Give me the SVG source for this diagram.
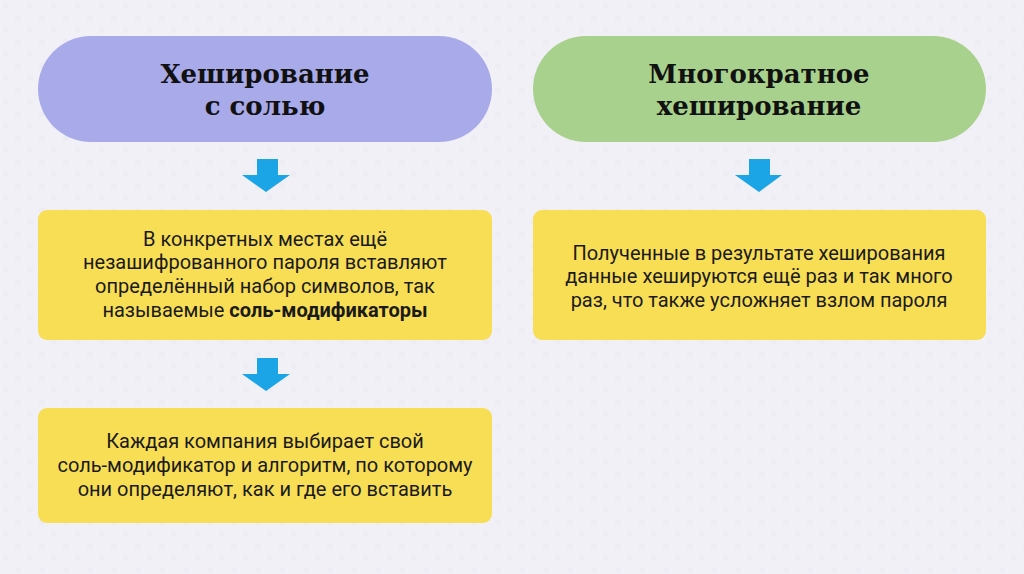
<svg xmlns="http://www.w3.org/2000/svg" width="1024" height="574" viewBox="0 0 1024 574">
<defs>
<style>
.title{font-family:"DejaVu Serif","Liberation Serif",serif;font-weight:bold;font-size:26px;fill:#111;text-anchor:middle}
.body{font-family:Roboto,"Liberation Sans",sans-serif;font-size:20px;fill:#1a1a1a;text-anchor:middle}
.box{fill:#f8de55}
.arrow{fill:#1ba4e6}
</style>
<pattern id="dots" width="24" height="24" patternUnits="userSpaceOnUse">
<circle cx="6" cy="6" r="3" fill="#e6e4ee" opacity="0.4"/>
<circle cx="18" cy="18" r="3" fill="#e6e4ee" opacity="0.4"/>
</pattern>
</defs>
<rect width="1024" height="574" fill="#f1f0f7"/>
<rect width="1024" height="574" fill="url(#dots)"/>
<g id="connectors">
<path class="arrow" d="M257,159 H278 V175 H290 L266,192 L242,175 H257 Z"/>
<path class="arrow" d="M749,159 H770 V175 H782 L759,192 L735,175 H749 Z"/>
<path class="arrow" d="M257,358 H278 V374 H290 L266,391 L242,374 H257 Z"/>
</g>
<g id="salt-title">
<rect x="38" y="36" width="454" height="106" rx="53" fill="#a9aae9"/>
<text class="title" x="265" y="83">Хеширование</text>
<text class="title" x="265" y="115">с солью</text>
</g>
<g id="multi-title">
<rect x="533" y="36" width="453" height="106" rx="53" fill="#a8d18d"/>
<text class="title" x="759" y="83">Многократное</text>
<text class="title" x="759" y="115">хеширование</text>
</g>
<g id="salt-desc">
<rect class="box" x="38" y="210" width="454" height="130" rx="9"/>
<text class="body" x="265" y="246">В конкретных местах ещё</text>
<text class="body" x="265" y="269">незашифрованного пароля вставляют</text>
<text class="body" x="265" y="293">определённый набор символов, так</text>
<text class="body" x="265" y="317">называемые <tspan font-weight="bold">соль-модификаторы</tspan></text>
</g>
<g id="multi-desc">
<rect class="box" x="533" y="210" width="453" height="130" rx="9"/>
<text class="body" x="759" y="260">Полученные в результате хеширования</text>
<text class="body" x="759" y="283">данные хешируются ещё раз и так много</text>
<text class="body" x="759" y="307">раз, что также усложняет взлом пароля</text>
</g>
<g id="salt-company">
<rect class="box" x="38" y="408" width="454" height="115" rx="9"/>
<text class="body" x="265" y="448">Каждая компания выбирает свой</text>
<text class="body" x="265" y="472">соль-модификатор и алгоритм, по которому</text>
<text class="body" x="265" y="496">они определяют, как и где его вставить</text>
</g>
</svg>
